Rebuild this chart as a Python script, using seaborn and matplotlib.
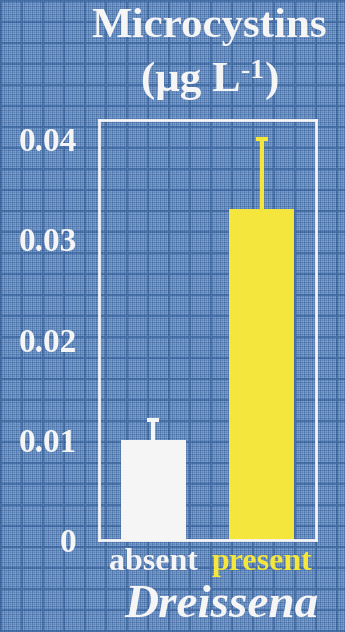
import matplotlib
matplotlib.use("Agg")
import matplotlib.pyplot as plt
import seaborn as sns
import pandas as pd
import numpy as np

groups = ["absent", "present"]
means = [0.010, 0.033]
upper_err = [0.002, 0.007]
yticks = [0, 0.01, 0.02, 0.03, 0.04]
ytick_labels = ["0", "0.01", "0.02", "0.03", "0.04"]

bg = "#4a76ac"
white = "#f5f5f5"
yellow = "#f4e63c"
bar_colors = [white, yellow]

sns.set_theme(style="white")
plt.rcParams["font.family"] = ["Liberation Serif", "DejaVu Serif"]

df = pd.DataFrame({"group": groups, "value": means})

W, H = 345, 632
fig = plt.figure(figsize=(W / 100, H / 100), dpi=100, facecolor=bg)

# woven plaid backdrop
yy, xx = np.mgrid[0:H, 0:W]
weave = np.array([0.25, 0.85, 0.55, 0.95])
wx = weave[xx % 4]
wy = weave[(yy + 2) % 4]
t = (wx + wy) / 2
t = np.where((xx % 21 < 2) | (yy % 21 < 2), t * 0.45, t)
dark = np.array([0x2c, 0x58, 0x94]) / 255
light = np.array([0x86, 0xa6, 0xd0]) / 255
tex = dark[None, None, :] + (light - dark)[None, None, :] * t[..., None]
fig.figimage(tex, xo=0, yo=0, origin="upper", zorder=-10)

ax = fig.add_axes([99 / W, 1 - 540 / H, 217 / W, 420 / H])
ax.set_facecolor("none")

sns.barplot(data=df, x="group", y="value", hue="group", palette=bar_colors,
            width=0.6, errorbar=None, legend=False, ax=ax, saturation=1,
            linewidth=0)

# upper-only error bars with a cap at the top end
for i, (m, e) in enumerate(zip(means, upper_err)):
    _, caps, _ = ax.errorbar(i, m, yerr=[[0], [e]], fmt="none",
                             ecolor=bar_colors[i], elinewidth=3,
                             capsize=4, capthick=3)
    caps[0].set_visible(False)

ax.set_xlim(-0.5, 1.5)
ax.set_ylim(0, 0.0419)
ax.set_yticks(yticks)
ax.set_yticklabels(ytick_labels)
ax.set_xlabel("")
ax.set_ylabel("")

for s in ax.spines.values():
    s.set_color(white)
    s.set_linewidth(2)

ax.tick_params(axis="y", direction="out", length=10, width=2, color=white,
               labelcolor=white, labelsize=24, pad=6)
ax.tick_params(axis="x", length=0, labelsize=23, pad=6)
for lbl in ax.get_yticklabels():
    lbl.set_fontweight("bold")
for lbl, c in zip(ax.get_xticklabels(), bar_colors):
    lbl.set_fontweight("bold")
    lbl.set_color(c)

title_kw = dict(fontweight="bold", color=white)
fig.text(209 / W, 1 - 27 / H, "Microcystins", ha="center", va="center",
         fontsize=31, **title_kw)

# unit line assembled from pieces so the superscript keeps a plain hyphen
renderer = fig.canvas.get_renderer()
base_y = 1 - 91 / H
pieces = [("(μg L", 31, 0), ("-1", 20, 13), (")", 31, 0)]
widths = []
for txt, fs, _ in pieces:
    tmp = fig.text(0, 0, txt, fontsize=fs, **title_kw)
    widths.append(tmp.get_window_extent(renderer).width)
    tmp.remove()
x = 210 - sum(widths) / 2
for (txt, fs, rise), w in zip(pieces, widths):
    fig.text(x / W, base_y + rise / H, txt, fontsize=fs, ha="left",
             va="baseline", **title_kw)
    x += w

fig.text(221 / W, 1 - 606 / H, "Dreissena", ha="center", va="center",
         fontsize=34, fontweight="bold", fontstyle="italic", color=white)

fig.savefig("out.png", dpi=100, facecolor=bg)
